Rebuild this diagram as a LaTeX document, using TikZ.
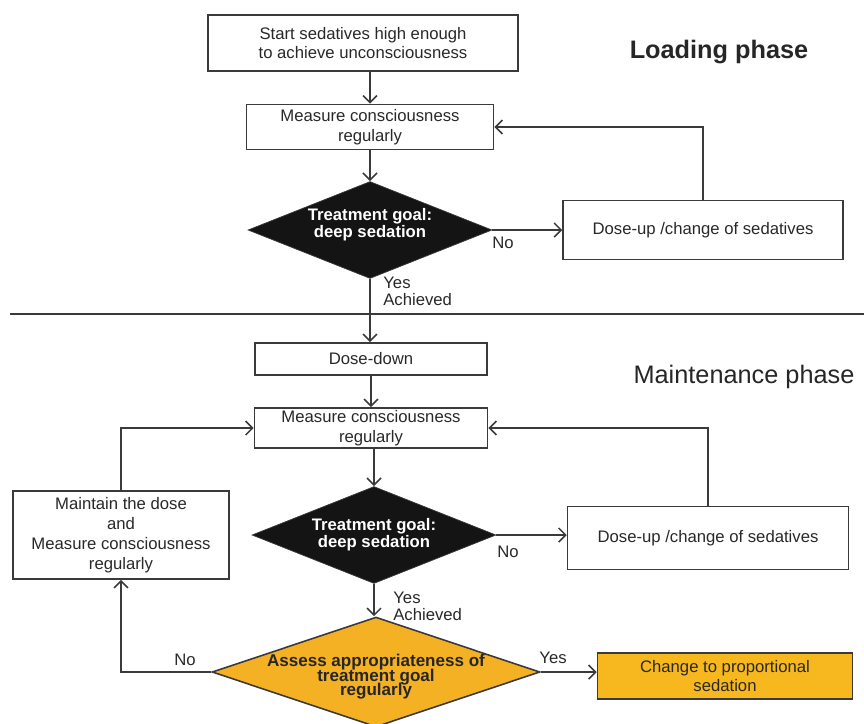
\documentclass[tikz,border=0pt]{standalone}
\usepackage{fontspec}
\setmainfont{Liberation Sans}
\usepackage{tikz}
\usepackage{xcolor}
\usetikzlibrary{shapes.geometric,arrows.meta}
\definecolor{line_gray}{RGB}{58,58,58}
\definecolor{text_gray}{RGB}{40,40,40}
\definecolor{goal_orange}{RGB}{245,177,36}
\definecolor{change_yellow}{RGB}{247,183,30}

\begin{document}
\begin{tikzpicture}[x=0.02cm,y=-0.02cm,
 box_node/.style={rectangle,draw=line_gray,line width=0.9pt,text=text_gray,align=center,inner sep=1pt,font=\fontsize{9.5}{11.3}\selectfont},
 goal_node/.style={diamond,aspect=2.5,draw=line_gray,fill=black!92,text=white,align=center,inner sep=0pt,inner ysep=-4pt,minimum width=4.88cm,minimum height=1.94cm,font=\bfseries\fontsize{9.5}{9.8}\selectfont},
 assess_node/.style={diamond,aspect=3,draw=line_gray,line width=0.9pt,fill=goal_orange,text=black!85,align=center,inner sep=0pt,inner ysep=-12pt,minimum width=6.56cm,minimum height=2.2cm,font=\bfseries\fontsize{9.7}{8.5}\selectfont},
 label_node/.style={align=left,inner sep=0pt,text=text_gray,font=\fontsize{9.5}{9.5}\selectfont},
 phase_node/.style={inner sep=0pt,text=black!85,font=\fontsize{14.4}{16}\selectfont},
 flow/.style={every edge/.style={draw=line_gray,line width=0.9pt,-{Straight Barb[length=4pt,width=8pt]}}},
 elbow_v/.style={to path={|- (\tikztotarget)}},
 elbow_h/.style={to path={-| (\tikztotarget)}}]

\useasboundingbox (0,0) rectangle (864,723);

% loading phase
\node[box_node,minimum width=6.2cm,minimum height=1.12cm] (start) at (363,43) {Start sedatives high enough\\to achieve unconsciousness};
\node[box_node,minimum width=4.94cm,minimum height=0.9cm] (measure_a) at (370,127) {Measure consciousness\\regularly};
\node[goal_node] (goal_a) at (370,230) {Treatment goal:\\deep sedation\rule[-8pt]{0pt}{0pt}};
\node[box_node,minimum width=5.6cm,minimum height=1.18cm] (doseup_a) at (703,230) {Dose-up /change of sedatives};
\node[phase_node,font=\bfseries\fontsize{14.4}{16}\selectfont] (loading) at (719,52) {Loading phase};
\node[label_node] (no_a) at (503,243) {No};
\node[label_node,anchor=west] (yes_a) at (383,291) {Yes\\Achieved};

\draw[line_gray,line width=1.6pt] (10,314) -- (864,314);

% maintenance phase
\node[box_node,minimum width=4.64cm,minimum height=0.64cm] (dosedown) at (371,359) {Dose-down};
\node[phase_node] (maintenance) at (744,377) {Maintenance phase};
\node[box_node,minimum width=4.66cm,minimum height=0.8cm] (measure_b) at (371,428) {Measure consciousness\\regularly};
\node[goal_node] (goal_b) at (374,535) {Treatment goal:\\deep sedation};
\node[box_node,minimum width=5.62cm,minimum height=1.26cm] (doseup_b) at (708,538) {Dose-up /change of sedatives};
\node[box_node,minimum width=4.32cm,minimum height=1.76cm] (maintain) at (121,535) {Maintain the dose\\and\\Measure consciousness\\regularly};
\node[assess_node] (assess) at (376,672) {\rule{0pt}{12.5pt}Assess appropriateness of\\[-1.8pt]treatment goal\\[-1.8pt]regularly};
\node[box_node,fill=change_yellow,minimum width=5.1cm,minimum height=0.92cm] (change) at (725,676) {Change to proportional\\sedation};
\node[label_node] (no_b) at (508,552) {No};
\node[label_node,anchor=west] (yes_b) at (393,606) {Yes\\Achieved};
\node[label_node] (no_c) at (185,660) {No};
\node[label_node] (yes_c) at (553,658) {Yes};

\path[flow]
(start.south -| measure_a.north) edge (measure_a.north)
(measure_a.south) edge (goal_a.north)
(goal_a.east) edge (doseup_a.west)
(doseup_a.north) edge[elbow_v] (measure_a.east)
(goal_a.south) edge (goal_a.south |- dosedown.north)
(dosedown.south) edge (measure_b.north)
(measure_b.south -| goal_b.north) edge (goal_b.north)
(goal_b.east) edge (goal_b.east -| doseup_b.west)
(doseup_b.north) edge[elbow_v] (measure_b.east)
(goal_b.south) edge (goal_b.south |- assess.north)
(assess.east) edge (assess.east -| change.west)
(assess.west) edge[elbow_h] (maintain.south)
(maintain.north) edge[elbow_v] (measure_b.west)
;

\end{tikzpicture}
\end{document}
